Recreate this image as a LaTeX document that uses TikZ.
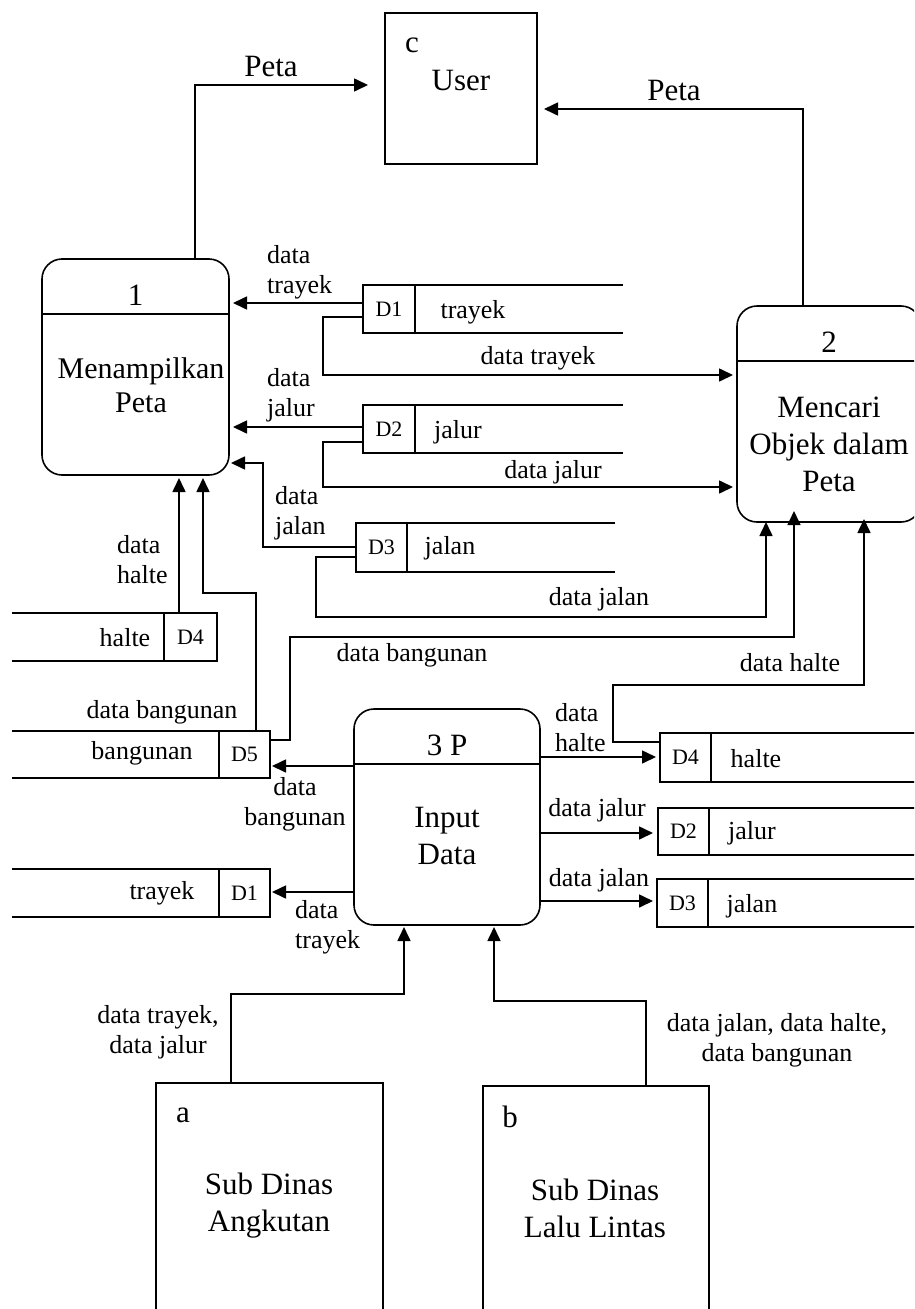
\documentclass[tikz,border=0pt]{standalone}
\usepackage{fontspec}
\setmainfont{Liberation Serif}
\usetikzlibrary{arrows.meta}
\begin{document}
\begin{tikzpicture}[x=1pt,y=-1pt,
  base/.style={line width=1.6pt},
  flow/.style={base,-{Triangle[length=14pt,width=13pt]}},
  proc/.style={draw,base,rounded corners=20pt,inner sep=0pt,outer sep=0pt},
  ent/.style={draw,base,inner sep=0pt,outer sep=0pt},
  cell/.style={draw,base,inner sep=0pt,outer sep=0pt,minimum width=52pt,minimum height=48pt,font=\fontsize{22}{26}\selectfont},
  big/.style={inner sep=0pt,font=\fontsize{31}{37}\selectfont,align=center},
  lbl/.style={inner sep=0pt,font=\fontsize{26}{30}\selectfont},
]
\useasboundingbox (0,0) rectangle (914,1309);
\clip (0,0) rectangle (914,1309);

% ---------- external entities ----------
\node[ent,minimum width=152pt,minimum height=151pt] (user) at (461,88.5) {};
\node[big] (userid) at (412,45) {c};
\node[big] (usertxt) at (461,81) {User};

\node[ent,minimum width=227pt,minimum height=247pt] (enta) at (269.5,1206.5) {};
\node[big] (entaid) at (183,1115) {a};
\node[big] (entatxt) at (269,1206) {Sub Dinas\\Angkutan};

\node[ent,minimum width=226pt,minimum height=244pt] (entb) at (596,1208) {};
\node[big] (entbid) at (510,1117) {b};
\node[big] (entbtxt) at (595,1208) {Sub Dinas\\Lalu Lintas};

% ---------- processes ----------
\node[proc,minimum width=187pt,minimum height=216pt] (p1) at (135.5,367) {};
\draw[base] (p1.west |- 0,314) -- (p1.east |- 0,314);
\node[big] (p1id) at (135.5,295) {1};
\node[big,font=\fontsize{30}{34}\selectfont] (p1txt) at (141,385) {Menampilkan\\Peta};

\node[proc,minimum width=184pt,minimum height=216pt] (p2) at (829,414) {};
\draw[base] (p2.west |- 0,361) -- (p2.east |- 0,361);
\node[big] (p2id) at (829,342) {2};
\node[big] (p2txt) at (829,444) {Mencari\\Objek dalam\\Peta};

\node[proc,minimum width=186pt,minimum height=216pt] (p3) at (447,817) {};
\draw[base] (p3.west |- 0,764) -- (p3.east |- 0,764);
\node[big] (p3id) at (447,745) {3 P};
\node[big] (p3txt) at (447,836) {Input\\Data};

% ---------- data stores ----------
% upper middle column
\node[cell] (s1) at (389,309) {D1};
\draw[base] (s1.north west) -- (s1.north west -| 623,0);
\draw[base] (s1.south west) -- (s1.south west -| 623,0);
\node[lbl] (s1n) at (473,312) {trayek};

\node[cell] (s2) at (389,429) {D2};
\draw[base] (s2.north west) -- (s2.north west -| 623,0);
\draw[base] (s2.south west) -- (s2.south west -| 623,0);
\node[lbl] (s2n) at (458,432) {jalur};

\node[cell,minimum width=51pt,minimum height=49pt] (s3) at (381.5,547.5) {D3};
\draw[base] (s3.north west) -- (s3.north west -| 615,0);
\draw[base] (s3.south west) -- (s3.south west -| 615,0);
\node[lbl] (s3n) at (450,548) {jalan};

% left column
\node[cell,minimum width=53pt] (s4) at (190.5,637) {D4};
\draw[base] (s4.north east) -- (s4.north east -| 12,0);
\draw[base] (s4.south east) -- (s4.south east -| 12,0);
\node[lbl] (s4n) at (125,638) {halte};

\node[cell,minimum width=51pt,minimum height=47pt] (s5) at (244.5,754.5) {D5};
\draw[base] (s5.north east) -- (s5.north east -| 12,0);
\draw[base] (s5.south east) -- (s5.south east -| 12,0);
\node[lbl] (s5n) at (142,753) {bangunan};

\node[cell,minimum width=51pt] (s6) at (244.5,893) {D1};
\draw[base] (s6.north east) -- (s6.north east -| 12,0);
\draw[base] (s6.south east) -- (s6.south east -| 12,0);
\node[lbl] (s6n) at (162,893) {trayek};

% right column
\node[cell,minimum width=51pt,minimum height=49pt] (s7) at (685.5,757.5) {D4};
\draw[base] (s7.north west) -- (s7.north west -| 930,0);
\draw[base] (s7.south west) -- (s7.south west -| 930,0);
\node[lbl] (s7n) at (756,759) {halte};

\node[cell,minimum width=51pt,minimum height=47pt] (s8) at (683.5,831.5) {D2};
\draw[base] (s8.north west) -- (s8.north west -| 930,0);
\draw[base] (s8.south west) -- (s8.south west -| 930,0);
\node[lbl] (s8n) at (752,833) {jalur};

\node[cell,minimum width=51pt] (s9) at (682.5,903) {D3};
\draw[base] (s9.north west) -- (s9.north west -| 930,0);
\draw[base] (s9.south west) -- (s9.south west -| 930,0);
\node[lbl] (s9n) at (752,906) {jalan};

% ---------- data flows ----------
\draw[flow,shorten >=17pt] (p1.north -| 195,0) |- (user.west |- 0,85);
\node[big] (f1) at (271,67) {Peta};

\draw[flow,shorten >=7pt] (p2.north -| 803,0) |- (user.east |- 0,109);
\node[big] (f2) at (674,91) {Peta};

\draw[flow,shorten >=4pt] (s1.west |- 0,303) -- (p1.east |- 0,303);
\node[lbl,anchor=west,align=left] (f3) at (267,272) {data\\trayek};

\draw[flow,shorten >=4pt] (s1.west |- 0,317) -| (323,375) -- (p2.west |- 0,375);
\node[lbl] (f4) at (538,358) {data trayek};

\draw[flow,shorten >=4pt] (s2.west |- 0,427) -- (p1.east |- 0,427);
\node[lbl,anchor=west,align=left] (f5) at (267,395.5) {data\\jalur};

\draw[flow,shorten >=4pt] (s2.west |- 0,442) -| (323,487) -- (p2.west |- 0,487);
\node[lbl] (f6) at (553,472) {data jalur};

\draw[flow,shorten >=2pt] (s3.west |- 0,547) -| (263,463) -- (p1.east |- 0,463);
\node[lbl,anchor=west,align=left] (f7) at (275,513) {data\\jalan};

\draw[flow] (s3.west |- 0,557) -| (316,617) -| (p2.south -| 766,0);
\node[lbl] (f8) at (599,599) {data jalan};

\draw[flow,shorten >=3pt] (s4.north -| 179,0) -- (p1.south -| 179,0);
\node[lbl,anchor=west,align=left] (f9) at (117,559.5) {data\\halte};

\draw[flow,shorten >=3pt] (s5.north -| 256,0) |- (203,593) -- (p1.south -| 203,0);
\node[lbl] (f10) at (162,712) {data bangunan};

\draw[flow,shorten >=-11pt] (s5.east |- 0,740) -| (290,637) -| (p2.south -| 794,0);
\node[lbl] (f11) at (412,655) {data bangunan};

\draw[flow,shorten >=-3pt] (s7.west |- 0,742) -| (613,685) -| (p2.south -| 864,0);
\node[lbl] (f12) at (790,663) {data halte};

\draw[flow,shorten >=2pt] (p3.west |- 0,766) -- (s5.east |- 0,766);
\node[lbl,align=center] (f13) at (295,804) {data\\bangunan};

\draw[flow,shorten >=2pt] (p3.west |- 0,892) -- (s6.east |- 0,892);
\node[lbl,anchor=west,align=left] (f14) at (295,927.5) {data\\trayek};

\draw[flow,shorten >=4pt] (p3.east |- 0,757) -- (s7.west |- 0,757);
\node[lbl,anchor=west,align=left] (f15) at (555,728) {data\\halte};

\draw[flow,shorten >=5pt] (p3.east |- 0,833) -- (s8.west |- 0,833);
\node[lbl] (f16) at (597,810) {data jalur};

\draw[flow,shorten >=4pt] (p3.east |- 0,901) -- (s9.west |- 0,901);
\node[lbl] (f17) at (599,880) {data jalan};

\draw[flow,shorten >=2pt] (enta.north -| 231,0) |- (404,994) -- (p3.south -| 404,0);
\node[lbl,align=center] (f18) at (158,1032) {data trayek,\\data jalur};

\draw[flow,shorten >=2pt] (entb.north -| 646,0) |- (494,1001) -- (p3.south -| 494,0);
\node[lbl,align=center] (f19) at (777,1040) {data jalan, data halte,\\data bangunan};
\end{tikzpicture}
\end{document}
